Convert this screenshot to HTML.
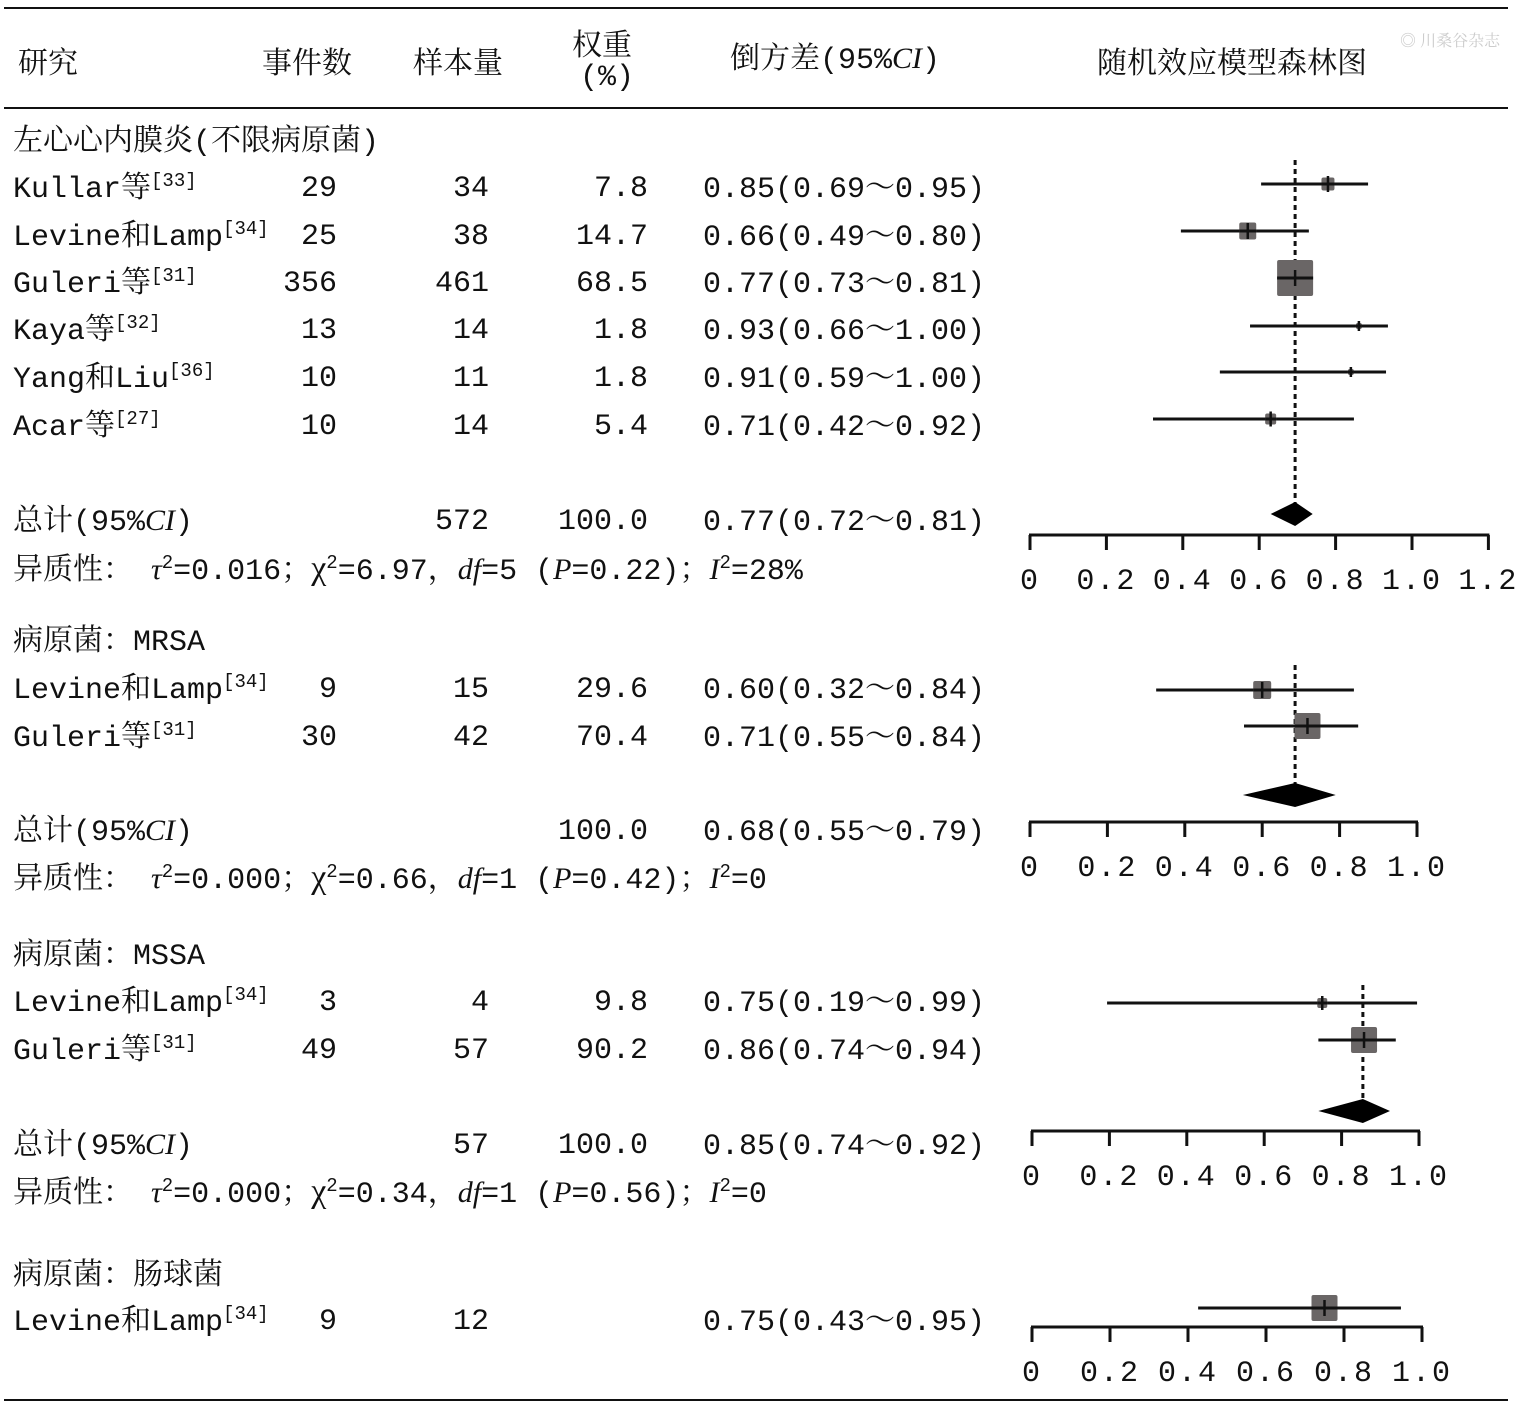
<!DOCTYPE html>
<html><head><meta charset="utf-8">
<style>
body{margin:0;background:#fff;}
#c{position:relative;width:1516px;height:1409px;overflow:hidden;background:#fff;font-family:"Liberation Mono","Noto Serif CJK SC",monospace;color:#111;}
.t{position:absolute;font-size:30px;line-height:40px;height:40px;white-space:nowrap;}
.t *{line-height:1;}
.cj{font-family:"Noto Serif CJK SC","Noto Sans CJK SC",serif;}
sup{font-size:19px;vertical-align:0;position:relative;top:-11px;}
i{font-family:"Liberation Serif",serif;font-style:italic;}
.hl{position:absolute;left:4px;width:1504px;background:#111;}
svg{position:absolute;left:0;top:0;}
</style></head><body>
<div id="c">
<div class="hl" style="top:7px;height:2px"></div>
<div class="hl" style="top:107px;height:2px"></div>
<div class="hl" style="top:1399px;height:2px"></div>
<div class="t cj" style="left:18px;top:40px">研究</div>
<div class="t cj" style="left:262px;top:40px">事件数</div>
<div class="t cj" style="left:413px;top:40px">样本量</div>
<div class="t cj" style="left:572px;top:22px">权重</div>
<div class="t" style="left:580px;top:58px">(%)</div>
<div class="t" style="left:730px;top:40px"><span class="cj">倒方差</span>(95%<i>CI</i>)</div>
<div class="t cj" style="left:1097px;top:40px">随机效应模型森林图</div>
<div class="t cj" style="left:1400px;top:20px;font-size:16px;color:#ccc">◎ 川桑谷杂志</div>
<div id="rows"></div>
<svg id="plot" width="1516" height="1409"></svg>
</div>
<script>
// table rows: [y, study, ref, events, sample, weight, ci]
const tableRows = [
 [142,"左心心内膜炎(不限病原菌)","", "","","",""],
 [189,"Kullar等","33","29","34","7.8","0.85(0.69～0.95)"],
 [237,"Levine和Lamp","34","25","38","14.7","0.66(0.49～0.80)"],
 [284,"Guleri等","31","356","461","68.5","0.77(0.73～0.81)"],
 [331,"Kaya等","32","13","14","1.8","0.93(0.66～1.00)"],
 [379,"Yang和Liu","36","10","11","1.8","0.91(0.59～1.00)"],
 [427,"Acar等","27","10","14","5.4","0.71(0.42～0.92)"],
 [522,"总计(95%CI)","","","572","100.0","0.77(0.72～0.81)"],
 [642,"病原菌：MRSA","","","","",""],
 [690,"Levine和Lamp","34","9","15","29.6","0.60(0.32～0.84)"],
 [738,"Guleri等","31","30","42","70.4","0.71(0.55～0.84)"],
 [832,"总计(95%CI)","","","","100.0","0.68(0.55～0.79)"],
 [956,"病原菌：MSSA","","","","",""],
 [1003,"Levine和Lamp","34","3","4","9.8","0.75(0.19～0.99)"],
 [1051,"Guleri等","31","49","57","90.2","0.86(0.74～0.94)"],
 [1146,"总计(95%CI)","","","57","100.0","0.85(0.74～0.92)"],
 [1276,"病原菌：肠球菌","","","","",""],
 [1322,"Levine和Lamp","34","9","12","","0.75(0.43～0.95)"]
];
const hetRows = [
 [571,"0.016","6.97","5","0.22","28%"],
 [880,"0.000","0.66","1","0.42","0"],
 [1194,"0.000","0.34","1","0.56","0"]
];
// forest panels
const panelTicks = [["0","0.2","0.4","0.6","0.8","1.0","1.2"],["0","0.2","0.4","0.6","0.8","1.0"],["0","0.2","0.4","0.6","0.8","1.0"],["0","0.2","0.4","0.6","0.8","1.0"]];
const panelAxisY = [535,822,1131,1327];
const panelPx0 = [1030,1030,1032,1032];
const panelPxPer1 = [382,387,387,390];
const panelSummary = [0.694,0.685,0.855,null];
const panelDiamond = [[0.63,0.74,514],[0.55,0.79,795],[0.74,0.925,1111],null];
// studies: panel, y, estimate, lo, hi, box size
const studyPanel = [0,0,0,0,0,0,1,1,2,2,3];
const studyY = [184,231,278,326,372,419,690,726,1003,1040,1308];
const studyEst = [0.78,0.57,0.694,0.861,0.84,0.63,0.60,0.717,0.75,0.858,0.75];
const studyLo = [0.605,0.395,0.694,0.576,0.497,0.322,0.326,0.553,0.194,0.74,0.426];
const studyHi = [0.885,0.73,0.694,0.937,0.932,0.848,0.837,0.848,0.995,0.94,0.946];
const studySize = [13,17,36,6,6,11,18,26,10,26,26];

const rows=document.getElementById('rows');
function txt(x,y,html,name,right){
  const d=document.createElement('div');
  d.className='t';
  d.innerHTML=html;
  if(right){d.style.right=(1516-x)+'px';d.style.textAlign='right';}else d.style.left=x+'px';
  d.style.top=(y-20)+'px';
  
  
  rows.appendChild(d);
}
tableRows.forEach((r,i)=>{
  let s=r[1].replace(/([\u4e00-\u9fff\uff1a]+)/g,'<span class="cj">$1</span>').replace('CI','<i>CI</i>');
  if(r[2]) s+='<sup>['+r[2]+']</sup>';
  txt(13,r[0],s,'study-label-'+i);
  if(r[3]) txt(337,r[0],r[3],'events-'+i,true);
  if(r[4]) txt(489,r[0],r[4],'sample-'+i,true);
  if(r[5]) txt(648,r[0],r[5],'weight-'+i,true);
  if(r[6]) txt(703,r[0],r[6].replace('～','<span class="cj">～</span>'),'ci-'+i);
});
hetRows.forEach((h,i)=>{
  txt(13,h[0],'<span class="cj">异质性：</span> <i>τ</i><sup>2</sup>='+h[1]+'<span class="cj">；</span><span style="font-family:Liberation Serif;font-size:34px">χ</span><sup>2</sup>='+h[2]+'<span class="cj">，</span><i>df</i>='+h[3]+' (<i>P</i>='+h[4]+')<span class="cj">；</span><i>I</i><sup>2</sup>='+h[5],'heterogeneity-'+i);
});
const svg=document.getElementById('plot');const NS='http://www.w3.org/2000/svg';
function el(tag,attrs,name){const e=document.createElementNS(NS,tag);for(const k in attrs)e.setAttribute(k,attrs[k]);
  
  
  svg.appendChild(e);return e;}
function X(p,v){return panelPx0[p]+v*panelPxPer1[p];}
panelTicks.forEach((ticks,p)=>{
  const y=panelAxisY[p];
  const xmax=X(p,parseFloat(ticks[ticks.length-1]));
  el('line',{x1:X(p,0)-1,x2:xmax+1,y1:y,y2:y,stroke:'#111','stroke-width':3},'x-axis-'+p);
  ticks.forEach((t,k)=>{const x=X(p,parseFloat(t));
    el('line',{x1:x,x2:x,y1:y,y2:y+15,stroke:'#111','stroke-width':3},'tick-'+p+'-'+k);
    const tx=el('text',{x:x,y:y+54,'text-anchor':'middle','font-size':30,'font-family':'Liberation Mono, monospace','letter-spacing':2,fill:'#111'},'tick-label-'+p+'-'+k);
    tx.textContent=t;
  });
});
const sTop=[160,665,985];const sBot=[505,790,1105];
panelSummary.forEach((v,p)=>{if(v==null)return;const x=X(p,v);
  el('line',{x1:x,x2:x,y1:sTop[p],y2:sBot[p],stroke:'#111','stroke-width':3,'stroke-dasharray':'5,4'},'summary-line-'+p);});
panelDiamond.forEach((d,p)=>{if(!d)return;const a=X(p,d[0]),b=X(p,d[1]),c=X(p,panelSummary[p]),y=d[2];
  el('polygon',{points:`${a},${y} ${c},${y-12} ${b},${y} ${c},${y+12}`,fill:'#000'},'pooled-diamond-'+p);});
studyEst.forEach((v,i)=>{const p=studyPanel[i],y=studyY[i],s=studySize[i];
  const x=X(p,v);
  if(studyHi[i]>studyLo[i]) el('line',{x1:X(p,studyLo[i]),x2:X(p,studyHi[i]),y1:y,y2:y,stroke:'#111','stroke-width':3},'ci-line-'+i);
  el('rect',{x:x-s/2,y:y-s/2,width:s,height:s,fill:'#6a6666',rx:2},'study-box-'+i);
  el('line',{x1:x,x2:x,y1:y-Math.min(8,s/2+2),y2:y+Math.min(8,s/2+2),stroke:'#111','stroke-width':2.5},'study-tick-'+i);
  el('line',{x1:x-s/2,x2:x+s/2,y1:y,y2:y,stroke:'#111','stroke-width':3},'box-ci-'+i);
});
</script>
</body></html>
